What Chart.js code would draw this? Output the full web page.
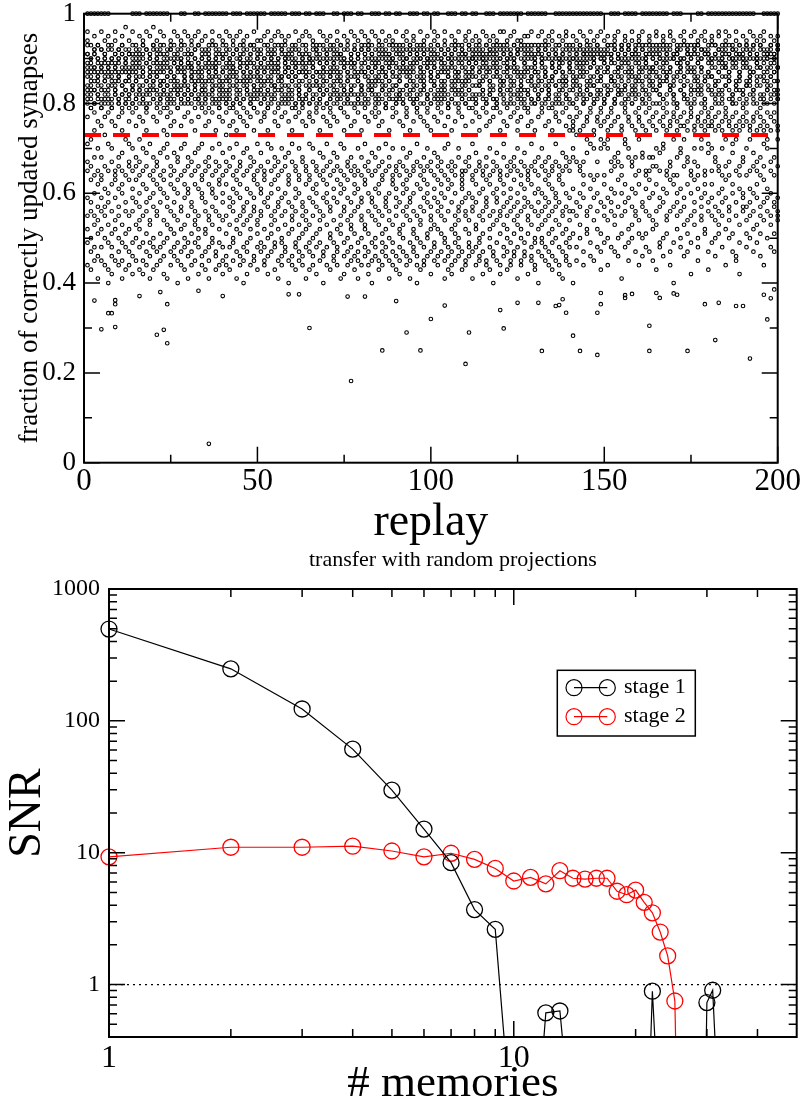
<!DOCTYPE html>
<html>
<head>
<meta charset="utf-8">
<script src="https://cdn.jsdelivr.net/npm/chart.js@4.4.1/dist/chart.umd.min.js"></script>
<style>
html,body{margin:0;padding:0;background:#fff;}
#wrap{position:relative;width:806px;height:1115px;overflow:hidden;background:#fff;}
canvas{position:absolute;left:0;}
</style>
</head>
<body>
<div id="wrap">
<canvas id="c1" width="806" height="556" style="top:0px"></canvas>
<canvas id="c2" width="806" height="575" style="top:540px"></canvas>
</div>
<script>
// ---------------- top panel data ----------------
// each string = one replay column (replay 1..200); each character is one point,
// level index i in LEVELS means fraction 0.38 + 0.01*i
const LEVELS = "ABCDEFGHIJKLMNOPQRSTUVWXYZabcdefghijklmnopqrstuvwxyz0123456789";
const replayColumns = [
"u1x4nqz6sLbGVRhOd","r0ywp3tvJZcMSFiU","5tkyq2xo1HWaPeKR","zs3vmu0wNgTDYbIQ","xp6r2ytlVKeOHaSZ","q4wn1zs0vGcRXMjT","t2oxu5ryPFhWLbUC","3vzq0mwpYIdNSgKE","sy1lt6xu4QaHZObV","w0rvn2qzJeTGXcRM",
"o5ux3sk1WHbPfLYD","y2qt7vzr0KSiNaFU","v4mxs1wpRGdZJhOc","1tzo6yquELXbVSgI","r3wlx0v2sPcMUHeZ","zq5tny1aKWFQdTiO","x0us4mr3wHYbLgRE","p6vz2qkoSNcXJfUG","t1yw0xs5IhVDaPQL","u3rn7zvZTbKeWMF",
"2xmq4tyw0GRdYJcS","vs1zo3ru6NaHUfKX","y0tkx5pvLgQEZbWI","q2wu1nzsDTeMVhPj","4rxvy0ol2SJcOaGY","tz6mq3wuRKfXIbNU","s1vp5xy0QHdWLeCZ","0uyr2lt4zJaTGgSO","w3qnx6svPbKYMhFV","z5tyo1ruXIeRcDWL",
"1vmw4qzsyNGaUdJT","x2ur0kt5SfPHbYLQ","r6yzn3wvKRcXEgOM","p0sx2tqu4WIaZVhG","tv5lyr1oUOdJSbFN","3zwm0xs2HeYQcKRD","q4uo6ytvLXaPgMTW","y1rk3zxw0VbIFSdJ","sv2pu5nqRcGZOhLY","0xtm4yr1EKfWUaQH",
"z3vq6owsIYdNbRGj","u0rl2txy5TgVKcPF","w4ym1pzqSHaXMeLU","x2ok5vruZJbQWhDO","6tsy0nq3GcRIdVNY","r1wzm4xvPKfTSaHC","v5ul2yotLbXJgQUE","q0znx3s1wRWeOcGM","y3tp6rukIaVZHdTS","2wxo0vs4NhKYbPFQ",
"t4qm1zyuJcSWLfRX","s0xr5nvoUGaOZbKH","z2wk3ty6pMdTIhVE","u1vq0xs4YRbNPgJW","o5rz2muyKLeFcSQZ","x3ytl6w0DaUHXdOT","w2sn1qv5VIgRMbGL","r4zo0ux3yPcKJeWS","1qtm5yswHZfYaNUC","v0xk3rz2TOdGQhIR",
"y6up2wnqSbLVKcXF","4szo1tvxMJgPZaHW","q0ym3rx5GRdIUeTN","u2wl6zs1YcOKbSQD","x5tn0vqoPhVFLaZJ","3rzu4mywIXdRGgMU","s1vq2ox0TKbWNcEY","t6xk0ur3zHaSQfOL","w2nyp5vsZJeVIbRC","0zqm1tx4UGcPYhKW",
"r3uy5low2NdTMaSF","v0sz2xqnXIfLVbHQ","y4tm6wr1GcZKeOUJ","z1xp3vs0RbPDhWNY","5uqo0ytkLSaIXgTE","w2rn4zvxVMcQJdGZ","s0yl1tq6PHeUbRKO","x3wm2uz5IYaFNcSW","q1vo4rs0TJgXLbDH","u6zk2yxtQReVGaMU",
"1sxn5wq3ZKcPIhOY","t0ym2vr4GWdNSbJE","o3uz6tx1VLaRUfHC","y5wq0nsvMIbXQeTK","r2xl4zo1SPgHYcWF","v0tm3uy6JZdGLaRN","w4qp1sx2UObTKhIV","z1yk5vr0DHeWMcSQ","3unx0tw4YJaPZgGL","s2ro6qzuRFcIVbXT",
"x1vm3ywsKNdUOaHE","q5tl0rz2WSgYJcPM","y0uo4xn6GIbRXeTZ","2wzk1sv3VLaQHfDU","t4ym5qxrNcKSbOWJ","u0rp2zo1YGdIMhRC","v3sn6wy0TPaXLcFQ","1xqm2tu4HZeVKbSG","z5ol0rysIWcNUgMY","w2vk3xq0RJbTQdEO",
"s6yn1zu4PLaHXfKV","r0tm3wx5UcGZOeSI","0qvo2ysrJYdRNbTW","x4zl6ut1MHgQVaDL","y2wp0snqSKcXIhFZ","u5rk1vz3GObUYdJE","t0xm4yq2WRaLPcHN","3szo6wvxKTeIQgMS","v1un2rt0YJbFZaUX","q4yl5xs1HVdOSbRG",
"w0zp3tv6NIcWKeLQ","2rum0yx4DSaTJhVZ","z1qo5sw3UGfYObPK","y4xk2nu0RMcHLdWI","s0vt6zr1JXbQEaSN","1wyl3qo5GZeUVcTH","x2sm0tv4OKaRYgFM","u5zn1ry2WIdPSbJC","r3qp4wx0LVcXHfUQ","t0yo2uk6SNbGZaRE",
"v6xm1zs3KYeTIhPW","0ql4wty2RFaOUcMJ","y1ur5vn0HSdXLbGV","s3zo0xq6ZJcNQeTI","w2tk4ym1UPbWKgDR","4vrn2uxsMGaYSdHO","z0qp3tw5XLfIVcJT","x5yo1sl2QRbEZaNU","u1wm6vr0TIcHPhKY","q3zk0ytxGWdSMbFL",
"r2sn5ux1JUaRXeOC","t6vo0qz3PMcLIgWS","3ywl2xr4ZHbVKdTQ","u0tp1sm5NGeYUaJR","y4zk6wvqSXcFObLI","x1rn0uo2HTdWQhMV","s5qm3yt0KPaZGcUE","0wvo4zx1RJbSNfYD","v2ul5rs6WIcTLeHO","z3xk0qnyMQdGVbSK",
"q0tm2wl5SgXNeCk","1yun4vz0KdRUHj","w3sk6xo2MbWPcT","r5zl0qy1VdJYaG","t2xm3un4RfNSiO","v0wo1ys6IhTLaX","u4qk2rz0ZgQVjH","y1tn5xm3WaKOdS","s6vl0wo2NiUJgF","0zrm4qu1YhRTaL",
"x2yk3sn5GgVMiQ","3tvo0wl1SbXKdU","z5qm2ur4PeJcRW","w1xn6ys0TdMZfI","y0sl3vk2RaWNcD","u4zo1tq5KhSUiY","r2wm0xn3VgOLeH","q6yl4us1XcTPdM","t1vk2zo0JaRWeS","s3xn5wm4GbQYiN",
"v0ul2ry6MfUIeT","1qzo3tk0SaXNbK","x4wm1ys5RbVJeZ","y2vn0ul3HcWOeQ","z5tk6xo1PgSYcF","u3sm0qw2LfTKbV","r0yl4zn5UhMXgI","w1xo2vk3NbRQaW","t6ul5ym0ZcJSdG","0sqn1wo4TiYLaC",
"q2zm3xk1WeOUaR","y5vl0tn2KgXMfS","s0wo4ul6IiTVcP","x1rk2zm3QeNYdJ","u3yn5qo0RbWLaE","v6tl1xk2SdUPgZ","z0wm3sn4HaXKcM","t2uo0yl5VgQRiT","r4qk6vm1ObYNaW","1xno2wl3JfSUhF",
"w0zl5tm4YbRLgV","y3uk1sn0MeTQdI","s5vo2xl6PcWNbS","q1tm0zk3UgKXaR","u4wn6yo2GcVOiZ","x0rl1vm5TaSMdQ","z2sk3qn0WhYJfN","v6yo4ul1RbUIiH","t1xm0wk3LcXPaE","0qzn2sl5SdTVeW",
"r3um4yo0NaQKgT","y1wk6vl2XbRUiM","s5tn0xm3JcWOfS","u0zo1qk4PbVLdY","w2rl3yn5ReTNaI","x4vm6sk0UcZQhG","q0uo1tl2SgXMiV","z3wn5yk1KdPRbW","v1sm0xo4TeUJaN","t5yl2rk3QiSVcR"
];
// additional points of the dense upper cloud, same encoding, replay 1..200
const replayColumnsUpper = [
"w1r3yt","0zuspx","2qvty1","rsx0w3","yu2zqp","1tvrx0","s3wyqz","xp0u2r","v1tzsy","q2rw0x",
"u3yp1s","zt0vxq","r2ws1y","3xuq0t","yv1pzr","s0w2tu","x1qry3","tz2svp","0wyu1q","v3rxt2",
"p1zsw0","uy2qxr","3tvz1s","wr0yup","x2qs3t","zv1rw0","ys2tpu","q0xz3r","1uwvsy","t2rq0z",
"sx1yw3","v0pu2t","rz3qsx","y1wt0v","2usrzq","xp1vy0","w3tzsr","q0uy2x","z1rwpt","sv3x0u",
"ty2qr1","0wzvsp","u1xy3q","rt2sw0","y0vzq1","p3xur2","zs0tyw","1qvrx3","wu2zsp","x0ty1r",
"v2qwzs","3ruy0x","sp1tvq","yz2wr0","u3xs1t","q0zvyp","r2tw3u","xs1qz0","w0yur2","t1vpxs",
"z3qwy0","s2rutx","0vpzq1","yx3wsr","u1tz0q","r0swy2","p2xvu3","wz1rqt","3yus0x","q1vt2z",
"xs0wpr","t3zyu1","v2qx0s","r1wup3","y0zs2t","sq3vxr","1utwz0","zp2yqs","w0rx1v","u3stq2",
"x1zrp0","q2yw3u","s0vtx1","ry2zup","0wq3sv","t1xry2","zu0pwq","v3sy1t","p2rxz0","yw1uq3",
"s0tvr2","x3zqy1","u2wps0","r1ytx3","q0zuv2","w3srp1","t2xyq0","zv1wu3","y0rsp2","1qtxzw",
"u2vry0","s3pwq1","x0zut2","r1ysv3","w2qxp0","t0zry1","v3uws2","q1xt0p","y2sz3r","0wuvq1",
"zr2tx3","s1pyw0","u0qzr2","x3vsu1","p2wty0","r0xqz3","y1uvs2","w3rp0t","q2zyx1","t0svw3",
"v1ru2q","z3xpy0","s2tqw1","u0yvz3","x1rsp2","3wuq0t","y2zxr1","p0vts3","r3wyq2","q1uzx0",
"w2sr3v","t1pyz0","0xquw2","s3vrt1","z0ywp2","u1qsx3","y3rzv0","x2tuq1","v0wsp3","r2zyt1",
"q3xvu0","1spwr2","t0uzy3","w2qxs1","z1rtv0","s3yup2","u0wqz1","x2vrs3","p1tyw0","r0zxq2",
"y3sut1","v1wpz0","q2xrv3","t0syu1","3zwqt2","u1rxp0","s2vzy3","x0qtw1","w3urs2","z1ypv0",
"r2tqx3","y0wsz1","p3uvr2","q1xyt0","t2zwq3","0svuy1","v3rpx2","s1qzw0","x2tyu3","u0rvs1",
"w1zqp2","z3xty0","r0wus3","y2vqz1","t1spx0","q3yrw2","1uztv3","s0xqy2","v2wrp1","x1tzu0",
"p0ysw3","u3qvr1","z2xtq0","w0rys2","y1uzp3","t3vwx1","r2sqy0","q0tzu2","3xwrv1","s1ypt0",
"v2quz3","u0wxs1","x3rtq2","z1vyw0","y0sup3","w2zqr1","t1xvy0","r3uws2","q0tzx1","s2ryv3"
];
// replays that have a point exactly at fraction 1 (on the top frame)
const topRowReplays = [1,2,3,4,5,6,7,14,15,16,18,19,20,21,22,23,24,28,29,32,33,35,36,37,38,39,40,41,43,44,45,47,48,49,50,51,52,54,55,56,57,58,60,61,62,
64,65,67,68,69,72,73,75,76,77,79,80,83,84,85,87,88,90,91,94,95,96,98,99,101,102,105,106,107,109,110,112,113,116,117,118,
120,121,122,123,124,125,126,128,129,130,131,132,133,136,137,138,139,140,141,142,143,144,145,146,147,148,149,152,153,154,156,157,158,159,
161,162,163,164,165,166,167,168,170,171,172,177,178,180,181,182,183,184,185,186,187,188,189,190,191,192,193,196,197,198,199,200];
// sparse low points (below 0.38)
const lowReplays = [3,5,7,8,9,9,9,16,21,22,23,24,24,33,36,40,59,62,65,76,77,81,86,90,93,97,100,104,110,111,120,121,125,131,132,136,137,138,139,141,143,148,148,149,149,156,156,158,163,163,165,166,170,171,174,179,182,183,188,190,192,196,197,198,199];
const lowFractions = [0.361,0.297,0.333,0.333,0.362,0.353,0.302,0.371,0.285,0.38,0.296,0.266,0.353,0.383,0.042,0.371,0.375,0.375,0.30,0.37,0.182,0.37,0.25,0.36,0.29,0.25,0.32,0.35,0.22,0.29,0.34,0.299,0.356,0.356,0.249,0.349,0.351,0.364,0.334,0.283,0.249,0.334,0.24,0.353,0.378,0.373,0.367,0.376,0.305,0.249,0.378,0.367,0.377,0.374,0.249,0.353,0.273,0.356,0.349,0.349,0.232,0.374,0.319,0.366,0.386];
const thresholdFraction = 0.73;
const replayTicks = [0,50,100,150,200];
const replayMinorTicks = [25,75,125,175];
const fractionTicks = [0,0.2,0.4,0.6,0.8,1];
const fractionMinorTicks = [0.1,0.3,0.5,0.7,0.9];

// ---------------- bottom panel data ----------------
const memoriesStage1 = [1,2,3,4,5,6,7,8,9,10,11,12,13,14,15,16,17,18,19,20,21,22,23,24,25,26,27,28,29,30,31,32,33];
const snrStage1 = [497,248,123,61,29.8,15.1,8.4,3.7,2.62,0.05,0.02,0.61,0.63,0.057,0.01,0.01,0.01,0.01,0.01,0.01,0.013,0.89,0.067,0.01,0.01,0.01,0.01,0.01,0.002,0.73,0.905,0.12,0.01];
const memoriesStage2 = [1,2,3,4,5,6,7,8,9,10,11,12,13,14,15,16,17,18,19,20,21,22,23,24,25,26];
const snrStage2 = [9.3,11.0,11.0,11.2,10.3,9.3,9.9,8.9,7.6,6.1,6.5,5.8,7.3,6.4,6.3,6.4,6.4,5.1,4.8,5.2,4.2,3.5,2.5,1.65,0.75,0.002];
const seriesLabels = ['stage 1','stage 2'];
const memoryTicks = [1,10];
const memoryMinorTicks = [2,3,4,5,6,7,8,9,20,30,40];
const snrTicks = [1,10,100,1000];
const snrMinorTicks = [0.5,0.6,0.7,0.8,0.9,2,3,4,5,6,7,8,9,20,30,40,50,60,70,80,90,200,300,400,500,600,700,800,900];
const referenceLevel = 1;

// ---------------- drawing ----------------
const FONT = '"Liberation Serif", "DejaVu Serif", serif';
Chart.defaults.font.family = FONT;
Chart.defaults.color = '#000';

function framePlugin(cfg) {
  return {
    id: 'frameTicks',
    afterDatasetsDraw(chart) {
      const {ctx, chartArea: a} = chart;
      const xs = chart.scales.x, ys = chart.scales.y;
      ctx.save();
      ctx.strokeStyle = '#000';
      ctx.lineWidth = cfg.tickWidth;
      ctx.beginPath();
      const xt = (vals, len) => vals.forEach(v => {
        const p = xs.getPixelForValue(v);
        ctx.moveTo(p, a.bottom); ctx.lineTo(p, a.bottom - len);
        ctx.moveTo(p, a.top); ctx.lineTo(p, a.top + len);
      });
      const yt = (vals, len) => vals.forEach(v => {
        const p = ys.getPixelForValue(v);
        ctx.moveTo(a.left, p); ctx.lineTo(a.left + len, p);
        ctx.moveTo(a.right, p); ctx.lineTo(a.right - len, p);
      });
      xt(cfg.xMajor, 16); xt(cfg.xMinor, 8);
      yt(cfg.yMajor, 16); yt(cfg.yMinor, 8);
      ctx.stroke();
      ctx.lineWidth = cfg.frameWidth;
      ctx.strokeRect(a.left, a.top, a.right - a.left, a.bottom - a.top);
      ctx.restore();
    }
  };
}

const scatterPoints = [];
[replayColumns, replayColumnsUpper].forEach(cols => cols.forEach((col, i) => {
  for (const ch of col) scatterPoints.push({x: i + 1, y: 0.38 + 0.01 * LEVELS.indexOf(ch)});
}));
topRowReplays.forEach(r => scatterPoints.push({x: r, y: 1}));
lowReplays.forEach((r, i) => scatterPoints.push({x: r, y: lowFractions[i]}));

new Chart(document.getElementById('c1'), {
  type: 'scatter',
  data: {
    datasets: [
      {type: 'line', data: [{x: replayTicks[0], y: thresholdFraction}, {x: replayTicks[replayTicks.length - 1], y: thresholdFraction}],
       borderColor: '#ff0000', borderWidth: 4, borderDash: [17, 12], pointRadius: 0, order: 0, clip: 0},
      {data: scatterPoints, pointRadius: 1.8, pointBorderWidth: 1.1, pointBorderColor: '#000',
       pointBackgroundColor: 'rgba(0,0,0,0)', borderColor: '#000', backgroundColor: 'rgba(0,0,0,0)', order: 1, clip: 4}
    ]
  },
  options: {
    responsive: false, animation: false, events: [],
    layout: {padding: {top: 13.7, right: 28.3, left: 0, bottom: 0}},
    plugins: {legend: {display: false}, tooltip: {enabled: false}},
    scales: {
      x: {
        type: 'linear', min: 0, max: 200,
        grid: {display: false, drawTicks: false}, border: {display: false},
        afterBuildTicks: s => { s.ticks = replayTicks.map(v => ({value: v})); },
        ticks: {font: {size: 31}, color: '#000', padding: 1, maxRotation: 0, autoSkip: false, callback: v => String(v)},
        title: {display: true, text: 'replay', font: {size: 46}, color: '#000', padding: {top: 0, bottom: 5}},
        afterFit: s => { s.height = 93.3; s.paddingLeft = 0; s.paddingRight = 0; }
      },
      y: {
        type: 'linear', min: 0, max: 1,
        grid: {display: false, drawTicks: false}, border: {display: false},
        afterBuildTicks: s => { s.ticks = fractionTicks.map(v => ({value: v})); },
        ticks: {font: {size: 27}, color: '#000', padding: 8, autoSkip: false, callback: v => String(v)},
        title: {display: true, text: 'fraction of correctly updated synapses', font: {size: 27}, color: '#000', padding: {top: 13.8, bottom: 13.8}},
        afterFit: s => { s.width = 84; s.paddingTop = 0; s.paddingBottom = 0; }
      }
    }
  },
  plugins: [framePlugin({xMajor: replayTicks, xMinor: replayMinorTicks, yMajor: fractionTicks, yMinor: fractionMinorTicks, tickWidth: 1.5, frameWidth: 2})]
});

const legendPlugin = {
  id: 'boxLegend',
  afterDraw(chart) {
    const ctx = chart.ctx;
    const box = {x: 557.3, y: 130.3, w: 138, h: 65.7};
    ctx.save();
    ctx.lineWidth = 1.5; ctx.strokeStyle = '#000';
    ctx.strokeRect(box.x, box.y, box.w, box.h);
    chart.data.datasets.slice(0, 2).forEach((ds, i) => {
      const cy = box.y + 17.4 + i * 29;
      ctx.strokeStyle = ds.borderColor; ctx.lineWidth = 1.2;
      ctx.beginPath(); ctx.moveTo(574, cy); ctx.lineTo(607.3, cy); ctx.stroke();
      [574, 607.3].forEach(cx => { ctx.beginPath(); ctx.arc(cx, cy, 8, 0, Math.PI * 2); ctx.stroke(); });
      ctx.fillStyle = '#000'; ctx.font = '22px ' + FONT; ctx.textBaseline = 'middle'; ctx.textAlign = 'left';
      ctx.fillText(ds.label, 624, cy);
    });
    ctx.restore();
  }
};

const lineClip = {left: 12, right: 12, top: 12, bottom: 0};
new Chart(document.getElementById('c2'), {
  type: 'line',
  data: {
    datasets: [
      {label: seriesLabels[0], data: memoriesStage1.map((m, i) => ({x: m, y: snrStage1[i]})),
       borderColor: '#000', borderWidth: 1.2, pointRadius: 8, pointBorderWidth: 1.3, pointBorderColor: '#000',
       pointBackgroundColor: 'rgba(0,0,0,0)', backgroundColor: 'rgba(0,0,0,0)', tension: 0, clip: lineClip},
      {label: seriesLabels[1], data: memoriesStage2.map((m, i) => ({x: m, y: snrStage2[i]})),
       borderColor: '#ff0000', borderWidth: 1.2, pointRadius: 8, pointBorderWidth: 1.3, pointBorderColor: '#ff0000',
       pointBackgroundColor: 'rgba(0,0,0,0)', backgroundColor: 'rgba(0,0,0,0)', tension: 0, clip: lineClip},
      {label: 'ref', data: [{x: memoryTicks[0], y: referenceLevel}, {x: 50, y: referenceLevel}],
       borderColor: '#000', borderWidth: 1.2, borderDash: [2, 4], pointRadius: 0, clip: 0}
    ]
  },
  options: {
    responsive: false, animation: false, events: [],
    layout: {padding: {top: 0, right: 4.3, left: 0, bottom: 0}},
    plugins: {legend: {display: false}, tooltip: {enabled: false}},
    scales: {
      x: {
        type: 'logarithmic', min: 1, max: 50,
        grid: {display: false, drawTicks: false}, border: {display: false},
        afterBuildTicks: s => { s.ticks = memoryTicks.map(v => ({value: v})); },
        ticks: {font: {size: 32}, color: '#000', padding: 2, maxRotation: 0, autoSkip: false, callback: v => String(v)},
        title: {display: true, text: '# memories', font: {size: 45}, color: '#000', padding: {top: 0, bottom: 4}},
        afterFit: s => { s.height = 78; s.paddingLeft = 0; s.paddingRight = 0; }
      },
      xTop: {
        type: 'linear', position: 'top', axis: 'x', min: 0, max: 1,
        grid: {display: false, drawTicks: false}, border: {display: false},
        ticks: {display: false},
        title: {display: true, text: 'transfer with random projections', font: {size: 22}, color: '#000', padding: {top: 7.4, bottom: 0}},
        afterFit: s => { s.height = 49; s.paddingLeft = 0; s.paddingRight = 0; }
      },
      y: {
        type: 'logarithmic', min: 0.4, max: 1000,
        grid: {display: false, drawTicks: false}, border: {display: false},
        afterBuildTicks: s => { s.ticks = snrTicks.map(v => ({value: v})); },
        ticks: {font: {size: 24}, color: '#000', padding: 9, autoSkip: false, callback: v => String(v)},
        title: {display: true, text: 'SNR', font: {size: 46}, color: '#000', padding: {top: 0, bottom: 0}},
        afterFit: s => { s.width = 109; s.paddingTop = 0; s.paddingBottom = 0; }
      }
    }
  },
  plugins: [framePlugin({xMajor: memoryTicks, xMinor: memoryMinorTicks, yMajor: snrTicks, yMinor: snrMinorTicks, tickWidth: 1.5, frameWidth: 2}), legendPlugin]
});
</script>
</body>
</html>
